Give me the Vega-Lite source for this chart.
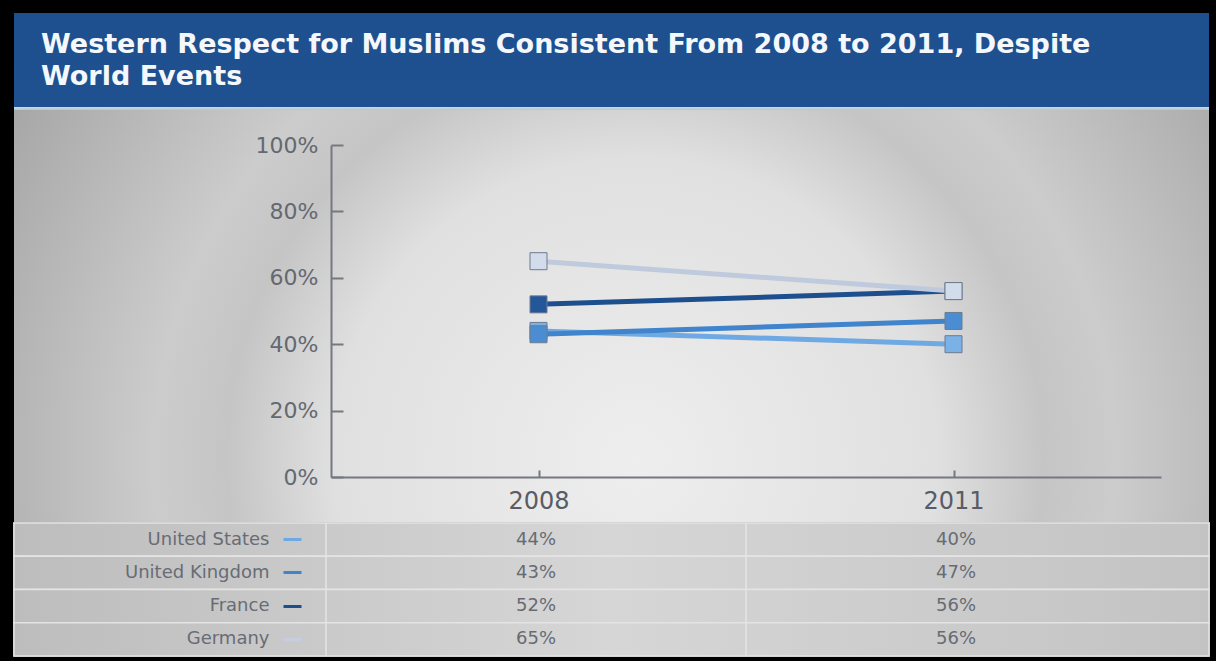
{
  "$schema": "https://vega.github.io/schema/vega-lite/v6.json",
  "background": "#000000",
  "padding": {"top": 13, "left": 13, "right": 8, "bottom": 6},
  "spacing": 0,
  "config": {"view": {"stroke": null}, "concat": {"spacing": 0}, "axis": {"grid": false, "zindex": 1}},
  "datasets": {
    "series": [
      {"country": "United States", "year": "2008", "value": 0.44},
      {"country": "United States", "year": "2011", "value": 0.40},
      {"country": "United Kingdom", "year": "2008", "value": 0.43},
      {"country": "United Kingdom", "year": "2011", "value": 0.47},
      {"country": "France", "year": "2008", "value": 0.52},
      {"country": "France", "year": "2011", "value": 0.56},
      {"country": "Germany", "year": "2008", "value": 0.65},
      {"country": "Germany", "year": "2011", "value": 0.56}
    ]
  },
  "vconcat": [
    {
      "width": 1195,
      "height": 97,
      "data": {"values": [{}]},
      "mark": {
        "type": "rect",
        "stroke": null,
        "fill": {
          "gradient": "linear", "x1": 0, "y1": 0, "x2": 0, "y2": 1,
          "stops": [
            {"offset": 0, "color": "#1e4f8e"},
            {"offset": 0.965, "color": "#1f5190"},
            {"offset": 0.97, "color": "#cbd9e8"},
            {"offset": 1, "color": "#b9c4cf"}
          ]
        }
      },
      "encoding": {},
      "title": {
        "text": ["Western Respect for Muslims Consistent From 2008 to 2011, Despite", "World Events"],
        "anchor": "start",
        "frame": "group",
        "orient": "top",
        "baseline": "top",
        "offset": -78,
        "dx": 27,
        "font": "DejaVu Sans",
        "fontSize": 27,
        "fontWeight": "bold",
        "color": "#f4f8fc",
        "lineHeight": 32,
        "zindex": 1
      }
    },
    {
      "width": 1195,
      "height": 412,
      "layer": [
        {
          "data": {"values": [{}]},
          "mark": {
            "type": "rect",
            "stroke": null,
            "fill": {
              "gradient": "radial",
              "x1": 0.52, "y1": 0.62, "r1": 0,
              "x2": 0.52, "y2": 0.62, "r2": 0.6,
              "stops": [
                {"offset": 0, "color": "#eeeeee"},
                {"offset": 0.42, "color": "#e0e0e0"},
                {"offset": 0.57, "color": "#c5c5c5"},
                {"offset": 0.67, "color": "#cccccc"},
                {"offset": 1, "color": "#a6a6a6"}
              ]
            }
          },
          "encoding": {}
        },
        {
          "data": {"name": "series"},
          "mark": {"type": "line", "strokeWidth": 5},
          "encoding": {
            "x": {
              "field": "year", "type": "nominal",
              "scale": {"type": "point", "range": [317, 1147], "padding": 0.5},
              "axis": {
                "title": null, "offset": -45, "labelAngle": 0, "zindex": 1,
                "tickSize": -7, "labelPadding": 19,
                "labelFont": "DejaVu Sans", "labelFontSize": 24, "labelColor": "#585c66",
                "domainColor": "#74787f", "tickColor": "#74787f", "domainWidth": 2, "tickWidth": 2
              }
            },
            "y": {
              "field": "value", "type": "quantitative",
              "scale": {"domain": [0, 1], "range": [367, 35]},
              "axis": {
                "title": null, "offset": -317, "values": [0, 0.2, 0.4, 0.6, 0.8, 1], "format": ".0%", "zindex": 1,
                "tickSize": -12, "labelPadding": 25,
                "labelFont": "DejaVu Sans", "labelFontSize": 22, "labelColor": "#646871",
                "domainColor": "#74787f", "tickColor": "#74787f", "domainWidth": 2, "tickWidth": 2
              }
            },
            "color": {
              "field": "country", "type": "nominal", "legend": null,
              "scale": {
                "domain": ["United States", "United Kingdom", "France", "Germany"],
                "range": ["#6fa9e3", "#3f84cc", "#1d4e8e", "#bfcbdd"]
              }
            },
            "detail": {"field": "country"}
          }
        },
        {
          "data": {"name": "series"},
          "mark": {"type": "point", "shape": "square", "size": 289, "filled": true, "opacity": 1, "stroke": "#6e7b8f", "strokeWidth": 1},
          "encoding": {
            "x": {"field": "year", "type": "nominal"},
            "y": {"field": "value", "type": "quantitative"},
            "fill": {
              "field": "country", "type": "nominal", "legend": null,
              "scale": {
                "domain": ["United States", "United Kingdom", "France", "Germany"],
                "range": ["#7ab2e8", "#4a8dd2", "#24569a", "#d2dcea"]
              }
            }
          }
        }
      ],
      "resolve": {"scale": {"fill": "independent", "color": "independent"}}
    },
    {
      "width": 1195,
      "height": 133,
      "layer": [
        {
          "data": {"name": "series"},
          "mark": {
            "type": "rect",
            "stroke": "#e4e4e4",
            "strokeWidth": 1.5,
            "fill": {
              "gradient": "linear", "x1": 0, "y1": 0, "x2": 1, "y2": 0,
              "stops": [
                {"offset": 0, "color": "#bdbdbd"},
                {"offset": 0.5, "color": "#d6d6d6"},
                {"offset": 1, "color": "#c3c3c3"}
              ]
            }
          },
          "encoding": {
            "y": {
              "field": "country", "type": "nominal",
              "sort": ["United States", "United Kingdom", "France", "Germany"],
              "scale": {"paddingInner": 0, "paddingOuter": 0},
              "axis": {
                "title": null, "orient": "left", "offset": -287, "domain": false, "zindex": 1,
                "tickSize": 18, "tickWidth": 3,
                "tickColor": {
                  "condition": [
                    {"test": "datum.value === 'United States'", "value": "#6fa9e3"},
                    {"test": "datum.value === 'United Kingdom'", "value": "#3f84cc"},
                    {"test": "datum.value === 'France'", "value": "#1d4e8e"}
                  ],
                  "value": "#c3cfe0"
                },
                "labelPadding": 14,
                "labelFont": "DejaVu Sans", "labelFontSize": 18, "labelColor": "#686c74"
              }
            }
          }
        },
        {
          "data": {"values": [{"year": "2008"}, {"year": "2011"}]},
          "mark": {"type": "rule", "color": "#e4e4e4", "strokeWidth": 1.5},
          "encoding": {
            "x": {
              "field": "year", "type": "nominal", "bandPosition": 0,
              "scale": {"type": "band", "range": [312, 1152], "paddingInner": 0, "paddingOuter": 0},
              "axis": null
            }
          }
        },
        {
          "data": {"name": "series"},
          "mark": {"type": "text", "font": "DejaVu Sans", "fontSize": 18, "color": "#676b73"},
          "encoding": {
            "x": {
              "field": "year", "type": "nominal",
              "scale": {"type": "band", "range": [312, 1152], "paddingInner": 0, "paddingOuter": 0},
              "axis": null
            },
            "y": {
              "field": "country", "type": "nominal",
              "sort": ["United States", "United Kingdom", "France", "Germany"]
            },
            "text": {"field": "value", "type": "quantitative", "format": ".0%"}
          }
        }
      ]
    }
  ]
}
